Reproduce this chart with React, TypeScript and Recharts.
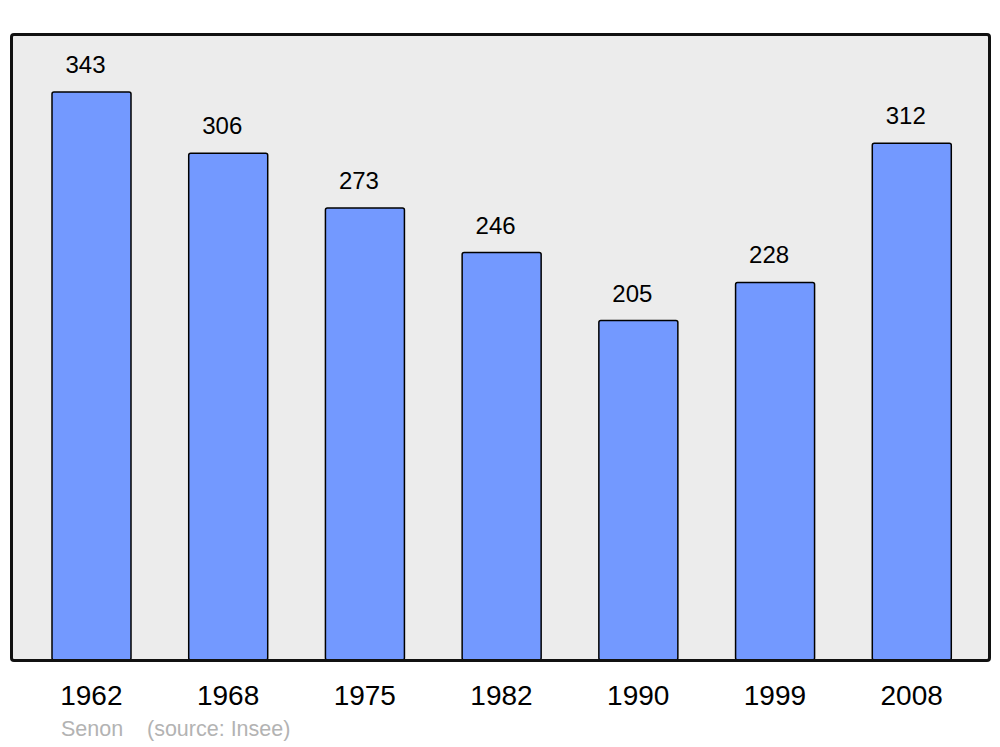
// Population bar chart, Senon (source: Insee)
import { BarChart, Bar, XAxis, YAxis, CartesianGrid, LabelList } from "recharts";

const years = ["1962", "1968", "1975", "1982", "1990", "1999", "2008"];
const population = [343, 306, 273, 246, 205, 228, 312];
const townName = "Senon";
const sourceNote = "(source: Insee)";

const data = years.map((year, i) => ({ year, pop: population[i] }));

const FONT = '"Liberation Sans", Arial, sans-serif';

export default function App() {
  return (
    <div style={{ position: "absolute", left: 0, top: 0, width: 1000, height: 747, background: "#fff", fontFamily: FONT }}>
      <BarChart width={1000} height={747} data={data} margin={{ top: 34, right: 11, bottom: 47, left: 11 }} barCategoryGap={0}>
        <CartesianGrid fill="#ececec" horizontal={false} vertical={false} stroke="none" />
        <YAxis hide domain={[0, 378]} />
        <XAxis
          dataKey="year"
          height={40}
          axisLine={false}
          tickLine={false}
          tickSize={0}
          tickMargin={25}
          padding={{ left: 12, right: 9 }}
          tick={{ fill: "#000", fontSize: 28, fontFamily: FONT }}
        />
        <Bar dataKey="pop" barSize={79} fill="#7399ff" stroke="#000" strokeWidth={1.5} radius={2} isAnimationActive={false}>
          <LabelList dataKey="pop" position="top" offset={19} dx={-6} fill="#000" fontSize={24} fontFamily={FONT} />
        </Bar>
      </BarChart>
      <div
        style={{
          position: "absolute",
          left: 9.5,
          top: 32.5,
          width: 981,
          height: 629,
          border: "3px solid #111",
          borderRadius: 4,
          boxSizing: "border-box",
          pointerEvents: "none",
        }}
      />
      <div style={{ position: "absolute", left: 61, top: 717, fontSize: 21.5, color: "#b3b3b3", whiteSpace: "pre" }}>
        {townName}
      </div>
      <div style={{ position: "absolute", left: 147, top: 717, fontSize: 21.5, color: "#b3b3b3", whiteSpace: "pre" }}>
        {sourceNote}
      </div>
    </div>
  );
}
